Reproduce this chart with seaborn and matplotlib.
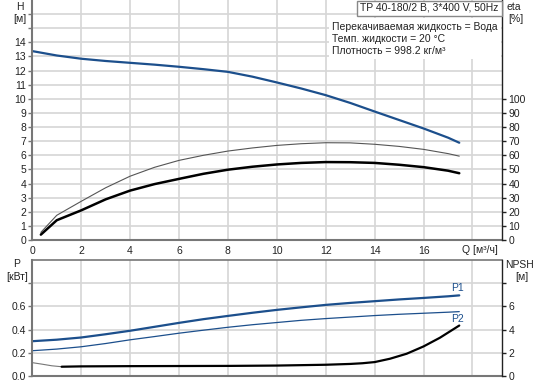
import matplotlib
matplotlib.use("Agg")
import matplotlib.pyplot as plt
import seaborn as sns
from matplotlib.patches import Rectangle

# head curve H [m]
q_h = [0, 1, 2, 3, 4, 5, 6, 7, 8, 9, 10, 11, 12, 13, 14, 15, 16, 17, 17.46]
h = [13.38, 13.07, 12.84, 12.68, 12.55, 12.42, 12.27, 12.1, 11.91, 11.57,
     11.16, 10.73, 10.26, 9.71, 9.1, 8.5, 7.9, 7.25, 6.89]

# efficiency curves eta [%]
q_eta = [0.35, 1, 2, 3, 4, 5, 6, 7, 8, 9, 10, 11, 12, 13, 14, 15, 16, 17, 17.46]
eta_total = [3.8, 14.0, 21.0, 28.8, 35.0, 39.6, 43.3, 46.9, 49.8, 51.9, 53.5,
             54.6, 55.2, 55.1, 54.6, 53.3, 51.6, 49.1, 47.3]
eta_pump = [5.4, 17.5, 27.4, 37.0, 45.2, 51.5, 56.4, 60.0, 63.0, 65.2, 67.0,
            68.2, 68.9, 68.8, 67.8, 66.3, 64.2, 61.2, 59.4]

# power curves P [kW]
q_p = [0, 1, 2, 3, 4, 5, 6, 7, 8, 9, 10, 11, 12, 13, 14, 15, 16, 17, 17.46]
p1 = [0.30, 0.313, 0.332, 0.36, 0.39, 0.424, 0.458, 0.49, 0.518, 0.545, 0.57,
      0.592, 0.613, 0.63, 0.645, 0.66, 0.673, 0.687, 0.695]
p2 = [0.218, 0.232, 0.252, 0.28, 0.312, 0.34, 0.369, 0.395, 0.42, 0.442, 0.461,
      0.48, 0.495, 0.508, 0.521, 0.532, 0.541, 0.55, 0.555]

# NPSH [m]
q_npsh_start = [0, 0.4, 0.8, 1.2]
npsh_start = [1.15, 1.02, 0.88, 0.8]
q_npsh = [1.2, 2, 4, 6, 8, 10, 12, 13, 13.5, 14, 14.63, 15.31, 16, 16.67, 17.46]
npsh = [0.8, 0.83, 0.85, 0.86, 0.87, 0.9, 0.97, 1.04, 1.1, 1.2, 1.49, 1.92,
        2.55, 3.3, 4.35]

x_ticks = [0, 2, 4, 6, 8, 10, 12, 14, 16, 18]
x_labels = ["0", "2", "4", "6", "8", "10", "12", "14", "16", ""]

BLUE = "#1c4f8c"
GRID = "#d6d6d6"
SPINE = "#777777"
FS = 7.5

sns.set_theme(style="white")
plt.rcParams["font.family"] = ["Liberation Sans", "DejaVu Sans"]
plt.rcParams["font.size"] = FS

W, H = 542, 384
fig = plt.figure(figsize=(W / 100, H / 100), dpi=100)


def fx(px):
    return px / W


def fy(py):
    return 1 - py / H


ax = fig.add_axes([fx(32.3), fy(240), fx(502.3) - fx(32.3), 240 / H])
ax2 = fig.add_axes([fx(32.3), fy(376), fx(502.3) - fx(32.3), 116 / H])
eta_ax = ax.twinx()
npsh_ax = ax2.twinx()

for a in (ax, ax2):
    a.set_xlim(0, 19.22)
    a.set_xticks(x_ticks)
    a.grid(True, color=GRID, lw=1.2)
    a.set_axisbelow(True)
    a.tick_params(axis="both", length=3, width=1, color=SPINE,
                  labelsize=FS, pad=1.5, colors="#222222")
    for s in ("left", "bottom"):
        a.spines[s].set_color(SPINE)
        a.spines[s].set_linewidth(1.5)

for a in (eta_ax, npsh_ax):
    a.grid(False)
    a.tick_params(axis="y", length=3, width=1, color="#222222",
                  labelsize=FS, pad=1.5, colors="#222222")
    a.spines["right"].set_color("#222222")
    a.spines["right"].set_linewidth(1)
    for s in ("left", "top", "bottom"):
        a.spines[s].set_visible(False)

# top panel
ax.set_ylim(0, 17)
ax.set_yticks(range(0, 17))
ax.set_yticklabels([str(v) if v <= 14 else "" for v in range(0, 17)])
ax.set_xticklabels(x_labels)
ax.spines["top"].set_visible(False)
ax.spines["right"].set_visible(False)

sns.lineplot(x=q_h, y=h, ax=ax, color=BLUE, lw=1.6)

eta_ax.set_ylim(0, 170)
eta_ax.set_yticks(range(0, 101, 10))
sns.lineplot(x=q_eta, y=eta_pump, ax=eta_ax, color="#555555", lw=0.8)
sns.lineplot(x=q_eta, y=eta_total, ax=eta_ax, color="black", lw=1.8)

# bottom panel
ax2.set_ylim(0, 1.0)
ax2.set_yticks([0, 0.2, 0.4, 0.6, 0.8])
ax2.set_yticklabels(["0.0", "0.2", "0.4", "0.6", ""])
ax2.set_xticklabels([])
ax2.tick_params(axis="x", length=0)
ax2.spines["top"].set_color(SPINE)
ax2.spines["top"].set_linewidth(1.2)
ax2.spines["right"].set_visible(False)

sns.lineplot(x=q_p, y=p1, ax=ax2, color=BLUE, lw=1.6)
sns.lineplot(x=q_p, y=p2, ax=ax2, color=BLUE, lw=0.9)

npsh_ax.set_ylim(0, 10)
npsh_ax.set_yticks([0, 2, 4, 6, 8])
npsh_ax.set_yticklabels(["0", "2", "4", "6", ""])
sns.lineplot(x=q_npsh_start, y=npsh_start, ax=npsh_ax, color="#777777", lw=0.8)
sns.lineplot(x=q_npsh, y=npsh, ax=npsh_ax, color="black", lw=1.6)

# axis titles
txt = dict(fontsize=FS, color="#222222", ha="center", va="center")
fig.text(fx(20), fy(7), "H", **txt)
fig.text(fx(20), fy(19), "[м]", **txt)
fig.text(fx(514), fy(7), "eta", **txt)
fig.text(fx(516), fy(19), "[%]", **txt)
fig.text(fx(17), fy(264), "P", **txt)
fig.text(fx(17), fy(277), "[кВт]", **txt)
fig.text(fx(519), fy(265), "NPSH", **txt)
fig.text(fx(522), fy(277), "[м]", **txt)
fig.text(fx(480), fy(250), "Q [м³/ч]", **txt)
fig.text(fx(458), fy(288), "P1", fontsize=FS, color=BLUE, ha="center", va="center")
fig.text(fx(458), fy(319), "P2", fontsize=FS, color=BLUE, ha="center", va="center")

# title box
fig.patches.append(Rectangle((fx(356.5), fy(15.5)), fx(502) - fx(356.5), fy(0.5) - fy(15.5),
                             transform=fig.transFigure, facecolor="white",
                             edgecolor="#888888", lw=1, zorder=5))
fig.text(fx(360), fy(8), "TP 40-180/2 B, 3*400 V, 50Hz", fontsize=FS,
         color="#222222", ha="left", va="center", zorder=6)

# liquid info
fig.patches.append(Rectangle((fx(329), fy(59)), fx(501) - fx(329), fy(18) - fy(59),
                             transform=fig.transFigure, facecolor="white",
                             edgecolor="none", zorder=5))
info = ["Перекачиваемая жидкость = Вода",
        "Темп. жидкости = 20 °C",
        "Плотность = 998.2 кг/м³"]
for i, line in enumerate(info):
    fig.text(fx(332), fy(27 + 12 * i), line, fontsize=FS, color="#222222",
             ha="left", va="center", zorder=6)

fig.savefig("out.png", dpi=100)
